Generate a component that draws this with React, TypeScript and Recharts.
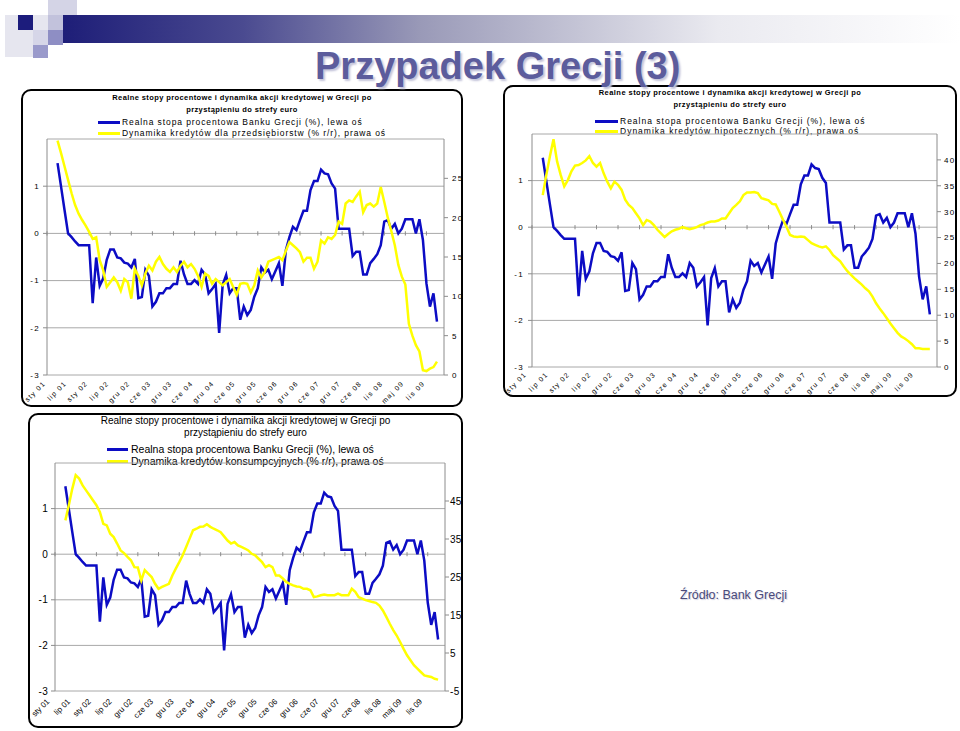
import React from 'react';
import { LineChart, Line, XAxis, YAxis, CartesianGrid, ReferenceLine } from 'recharts';

// monthly observations, first point = kwi 01 (month 3 counted from sty 01)
const firstMonth = 3;

const tickLabels = [
  'sty 01', 'lip 01', 'sty 02', 'lip 02', 'gru 02', 'cze 03', 'gru 03', 'cze 04', 'gru 04', 'cze 05',
  'gru 05', 'cze 06', 'gru 06', 'cze 07', 'gru 07', 'cze 08', 'lis 08', 'maj 09', 'lis 09',
];
const tickMonths = [0, 6, 12, 18, 24, 30, 36, 42, 48, 54, 60, 66, 72, 78, 84, 90, 96, 102, 108];

// Realna stopa procentowa Banku Grecji (%)
const rate = [
  1.49, 0.99, 0.49, 0.0, -0.08, -0.17, -0.25, -0.25, -0.25, -0.25,
  -1.48, -0.51, -1.11, -0.95, -0.56, -0.34, -0.34, -0.51, -0.53, -0.62,
  -0.64, -0.72, -0.54, -1.37, -1.35, -0.77, -0.9, -1.55, -1.45, -1.27,
  -1.27, -1.16, -1.16, -1.07, -1.07, -0.58, -0.87, -1.07, -1.07, -0.99,
  -1.07, -0.77, -0.87, -1.27, -1.18, -1.07, -2.11, -1.09, -0.88, -1.27,
  -1.16, -1.16, -1.83, -1.55, -1.73, -1.62, -1.34, -1.16, -0.72, -0.83,
  -0.77, -0.97, -0.8, -0.63, -1.11, -0.35, -0.08, 0.14, 0.07, 0.28,
  0.48, 0.48, 0.92, 1.11, 1.11, 1.35, 1.27, 1.25, 1.06, 0.95,
  0.1, 0.1, 0.1, 0.1, -0.48, -0.39, -0.39, -0.87, -0.87, -0.63,
  -0.54, -0.44, -0.25, 0.25, 0.28, 0.1, 0.2, 0.0, 0.1, 0.3,
  0.3, 0.3, 0.0, 0.3, -0.14, -1.06, -1.55, -1.27, -1.87,
];

// Dynamika kredytów dla przedsiębiorstw (% r/r)
const corporate = [
  29.8, 28.2, 26.5, 24.8, 23.1, 21.6, 20.5, 19.7, 19.0, 18.2,
  17.3, 17.5, 14.6, 13.3, 11.2, 11.8, 12.4, 11.8, 10.7, 12.2,
  11.8, 9.7, 13.5, 12.6, 11.4, 12.9, 13.9, 13.3, 14.4, 15.0,
  14.1, 13.5, 13.1, 13.7, 13.1, 13.9, 14.4, 13.7, 14.1, 13.5,
  12.6, 11.2, 12.9, 12.6, 11.6, 12.2, 11.8, 11.4, 11.8, 12.2,
  11.2, 10.2, 11.6, 11.7, 11.6, 10.5, 11.4, 13.3, 12.4, 13.1,
  14.4, 14.6, 14.8, 15.0, 14.6, 15.8, 16.9, 16.5, 16.1, 15.6,
  14.4, 14.9, 14.9, 13.5, 14.4, 17.1, 16.7, 17.5, 17.3, 17.8,
  19.5, 19.2, 21.8, 22.2, 22.0, 22.7, 23.3, 20.7, 21.6, 21.8,
  21.4, 21.8, 23.9, 22.0, 20.0, 18.3, 16.5, 14.0, 12.5, 11.5,
  6.5, 5.0, 3.8, 3.0, 0.6, 0.5, 0.8, 1.0, 1.7,
];

// Dynamika kredytów hipotecznych (% r/r)
const mortgage = [
  33.2, 37.1, 40.7, 44.0, 39.7, 37.1, 34.9, 36.1, 37.8, 38.9,
  39.0, 39.4, 39.9, 40.7, 39.4, 38.7, 39.4, 37.4, 35.8, 34.5,
  35.8, 35.2, 34.2, 32.3, 31.3, 30.7, 29.7, 28.7, 27.4, 28.4,
  28.1, 27.4, 26.5, 25.8, 25.1, 25.7, 26.2, 26.5, 26.7, 27.0,
  26.8, 26.6, 26.8, 27.0, 27.4, 27.6, 27.9, 28.1, 28.1, 28.3,
  28.7, 28.7, 29.7, 30.7, 31.3, 32.0, 33.2, 33.7, 33.7, 33.8,
  33.6, 32.6, 32.4, 32.2, 31.5, 31.4, 30.0, 28.5, 27.1, 25.5,
  25.2, 25.1, 25.2, 25.1, 24.5, 23.9, 23.6, 23.3, 23.1, 23.3,
  22.6, 21.6, 21.0, 20.4, 19.4, 18.5, 17.8, 17.1, 16.5, 15.9,
  15.2, 14.6, 13.6, 12.3, 11.3, 10.4, 9.4, 8.4, 7.5, 6.6,
  5.9, 5.5, 5.0, 4.4, 3.6, 3.6, 3.5, 3.5, 3.5,
];

// Dynamika kredytów konsumpcyjnych (% r/r)
const consumer = [
  39.9, 43.9, 48.2, 51.8, 50.9, 49.1, 47.8, 46.5, 45.2, 43.9,
  42.1, 39.0, 38.6, 36.4, 35.5, 33.8, 32.0, 31.3, 30.3, 29.4,
  27.6, 27.5, 24.1, 26.8, 25.9, 25.0, 23.2, 21.9, 22.4, 22.8,
  23.2, 25.4, 27.2, 28.9, 30.7, 32.9, 35.1, 37.3, 37.7, 38.2,
  38.3, 38.9, 38.2, 37.7, 37.3, 36.8, 35.7, 34.6, 33.8, 34.2,
  33.3, 32.9, 32.5, 32.0, 31.1, 30.7, 29.8, 28.9, 27.6, 28.1,
  27.6, 25.4, 25.4, 24.6, 23.7, 23.2, 22.8, 22.5, 22.4, 21.9,
  21.9, 21.5, 19.7, 19.9, 20.2, 20.4, 20.2, 20.2, 20.2, 20.6,
  20.2, 20.2, 20.2, 21.9, 21.1, 19.7, 19.3, 18.9, 18.7, 18.4,
  18.2, 17.5, 16.2, 14.5, 12.7, 11.0, 9.6, 7.9, 6.1, 4.4,
  3.1, 1.8, 0.9, 0.0, -0.9, -1.1, -1.3, -1.8, -2.0,
];

const leftTicks = [-3, -2, -1, 0, 1];
const corporateTicks = [0, 5, 10, 15, 20, 25];
const mortgageTicks = [0, 5, 10, 15, 20, 25, 30, 35, 40];
const consumerTicks = [-5, 5, 15, 25, 35, 45];

const titleLine1 = 'Realne stopy procentowe i dynamika akcji kredytowej w Grecji po';
const titleLine2 = 'przystąpieniu do strefy euro';
const rateLabel = 'Realna stopa procentowa Banku Grecji (%), lewa oś';

const FONT = '"Liberation Sans", Arial, sans-serif';
const BLUE = '#0c0cc4';
const YELLOW = '#ffff00';
const GRID = '#a8a8a8';
const AXIS = '#8c8c8c';

function MonthTick(props: any) {
  const { x, y, payload, dx, dy, size, spacing } = props;
  const label = tickLabels[tickMonths.indexOf(payload.value)];
  const ax = x + dx;
  const ay = y + dy;
  return (
    <text
      x={ax}
      y={ay}
      textAnchor="end"
      fontSize={size}
      letterSpacing={spacing}
      fontFamily={FONT}
      fill="#000"
      transform={`rotate(-45 ${ax} ${ay})`}
    >
      {label}
    </text>
  );
}

function CreditChart(props: any) {
  const {
    left, top, width, height, marginTop, xHeight, leftWidth, rightWidth,
    credit, rightDomain, rightTicks, font, spacing, monthFont, monthSpacing, monthDx, monthDy,
    leftMargin, rightMargin,
  } = props;
  const data = rate.map((r, k) => ({ m: firstMonth + k, rate: r, credit: credit[k] }));
  const tickStyle = { fontSize: font, fill: '#000', letterSpacing: spacing, fontFamily: FONT };
  return (
    <div style={{ position: 'absolute', left, top }}>
      <LineChart
        width={width}
        height={height}
        data={data}
        margin={{ top: marginTop, right: 0, bottom: 0, left: 0 }}
        style={{ overflow: 'visible' }}
      >
        <CartesianGrid vertical={false} stroke={GRID} />
        <XAxis
          dataKey="m"
          type="number"
          domain={[0, 113]}
          ticks={tickMonths}
          interval={0}
          height={xHeight}
          axisLine={false}
          tickLine={false}
          tickSize={0}
          tickMargin={0}
          tick={(p: any) => (
            <MonthTick {...p} dx={monthDx} dy={monthDy} size={monthFont} spacing={monthSpacing} />
          )}
        />
        <YAxis
          domain={[-3, 2]}
          ticks={leftTicks}
          interval={0}
          width={leftWidth}
          stroke={AXIS}
          tickSize={4}
          tickMargin={leftMargin}
          tick={tickStyle}
        />
        <YAxis
          yAxisId="right"
          orientation="right"
          domain={rightDomain}
          ticks={rightTicks}
          interval={0}
          width={rightWidth}
          stroke={AXIS}
          tickSize={4}
          tickMargin={rightMargin}
          tick={tickStyle}
        />
        {tickMonths.map((m) => (
          <ReferenceLine
            key={m}
            segment={[{ x: m, y: -0.045 }, { x: m, y: 0.045 }]}
            stroke={AXIS}
          />
        ))}
        <Line
          dataKey="rate"
          stroke={BLUE}
          strokeWidth={2.5}
          dot={false}
          isAnimationActive={false}
        />
        <Line
          yAxisId="right"
          dataKey="credit"
          stroke={YELLOW}
          strokeWidth={2.5}
          dot={false}
          isAnimationActive={false}
        />
      </LineChart>
    </div>
  );
}

function Text(props: any) {
  const { left, top, width, size, bold, spacing, align, children } = props;
  return (
    <div
      style={{
        position: 'absolute',
        left,
        top,
        width,
        fontSize: size,
        lineHeight: '12px',
        fontWeight: bold ? 'bold' : 'normal',
        letterSpacing: spacing,
        textAlign: align || 'left',
        whiteSpace: 'nowrap',
        color: '#000',
      }}
    >
      {children}
    </div>
  );
}

function Swatch({ left, top, width, color }: any) {
  return <div style={{ position: 'absolute', left, top, width, height: 2.5, background: color }} />;
}

function Box({ left, top, width, height }: any) {
  return (
    <div
      style={{
        position: 'absolute',
        left,
        top,
        width: width - 4,
        height: height - 4,
        border: '2px solid #000',
        borderRadius: 10,
        background: '#fff',
      }}
    />
  );
}

const squares = [
  { l: 5, t: 15, w: 43, h: 42, c: '#e6e6ef' },
  { l: 18, t: 15, w: 15, h: 15, c: '#1c1c7c' },
  { l: 48, t: 0, w: 29, h: 15, c: '#d4d4e6' },
  { l: 48, t: 15, w: 15, h: 15, c: '#c2c2dc' },
  { l: 33, t: 30, w: 15, h: 15, c: '#d6d6e8' },
  { l: 48, t: 30, w: 15, h: 15, c: '#8e8ec4' },
  { l: 33, t: 45, w: 15, h: 13, c: '#9a9acb' },
];

export default function App() {
  return (
    <div
      style={{
        position: 'absolute',
        left: 0,
        top: 0,
        width: 960,
        height: 731,
        background: '#fff',
        overflow: 'hidden',
        fontFamily: FONT,
      }}
    >
      {squares.map((s, k) => (
        <div key={k} style={{ position: 'absolute', left: s.l, top: s.t, width: s.w, height: s.h, background: s.c }} />
      ))}
      <div
        style={{
          position: 'absolute',
          left: 63,
          top: 15,
          width: 897,
          height: 28,
          background: 'linear-gradient(to right, #1e1e78 0%, #4a4a90 20%, #9a9ab8 40%, #eaeaf0 73%, #ffffff 100%)',
        }}
      />

      {/* chart 1: przedsiębiorstwa */}
      <Box left={21} top={89} width={442} height={318} />
      <Text left={21} top={92} width={442} size={7.5} bold spacing={0.4} align="center">{titleLine1}</Text>
      <Text left={21} top={104} width={442} size={7.5} bold spacing={0.4} align="center">{titleLine2}</Text>
      <Swatch left={98} top={121} width={22} color={BLUE} />
      <Swatch left={98} top={132} width={22} color={YELLOW} />
      <Text left={122} top={116} size={8.5} spacing={0.9}>{rateLabel}</Text>
      <Text left={122} top={127} size={8.5} spacing={0.9}>Dynamika kredytów dla przedsiębiorstw (% r/r), prawa oś</Text>
      <CreditChart
        left={21} top={130} width={442} height={277} marginTop={9} xHeight={32}
        leftWidth={26} rightWidth={19} leftMargin={3} rightMargin={4}
        credit={corporate} rightDomain={[0, 30]} rightTicks={corporateTicks}
        font={8} spacing={1.3} monthFont={7} monthSpacing={1.2} monthDx={-1} monthDy={9}
      />

      {/* chart 2: hipoteczne */}
      <Box left={503} top={85} width={454} height={312} />
      <Text left={503} top={87} width={454} size={7.5} bold spacing={0.45} align="center">{titleLine1}</Text>
      <Text left={503} top={99} width={454} size={7.5} bold spacing={0.45} align="center">{titleLine2}</Text>
      <Swatch left={595} top={120} width={23} color={BLUE} />
      <Swatch left={595} top={130} width={23} color={YELLOW} />
      <Text left={620} top={115} size={8.5} spacing={1}>{rateLabel}</Text>
      <Text left={620} top={125} size={8.5} spacing={1}>Dynamika kredytów hipotecznych (% r/r), prawa oś</Text>
      <CreditChart
        left={503} top={125} width={454} height={272} marginTop={9} xHeight={30}
        leftWidth={29} rightWidth={20} leftMargin={4} rightMargin={3}
        credit={mortgage} rightDomain={[0, 45]} rightTicks={mortgageTicks}
        font={8} spacing={1.3} monthFont={7} monthSpacing={1.2} monthDx={-5} monthDy={8}
      />

      {/* chart 3: konsumpcyjne */}
      <Box left={28} top={413} width={435} height={315} />
      <Text left={28} top={415} width={435} size={10} align="center">{titleLine1}</Text>
      <Text left={28} top={427} width={435} size={10} align="center">{titleLine2}</Text>
      <Swatch left={107} top={448} width={21} color={BLUE} />
      <Swatch left={107} top={460} width={21} color={YELLOW} />
      <Text left={131} top={443} size={10.5}>{rateLabel}</Text>
      <Text left={131} top={455} size={10.5}>Dynamika kredytów konsumpcyjnych (% r/r), prawa oś</Text>
      <CreditChart
        left={28} top={455} width={435} height={273} marginTop={8} xHeight={37}
        leftWidth={27} rightWidth={18} leftMargin={3} rightMargin={1}
        credit={consumer} rightDomain={[-5, 55]} rightTicks={consumerTicks}
        font={10} spacing={0.3} monthFont={8} monthSpacing={0} monthDx={-5} monthDy={11}
      />

      <div
        style={{
          position: 'absolute',
          left: 315,
          top: 47,
          fontSize: 38,
          lineHeight: '38px',
          fontWeight: 'bold',
          color: '#5c5c9c',
          textShadow: '2px 2px 2px #c4c4da',
          whiteSpace: 'nowrap',
        }}
      >
        Przypadek Grecji (3)
      </div>

      <div
        style={{
          position: 'absolute',
          left: 680,
          top: 588,
          fontSize: 12.5,
          lineHeight: '15px',
          color: '#4a4a7a',
          textShadow: '1px 1px 1px #d0d0e0',
          whiteSpace: 'nowrap',
        }}
      >
        Źródło: Bank Grecji
      </div>
    </div>
  );
}
